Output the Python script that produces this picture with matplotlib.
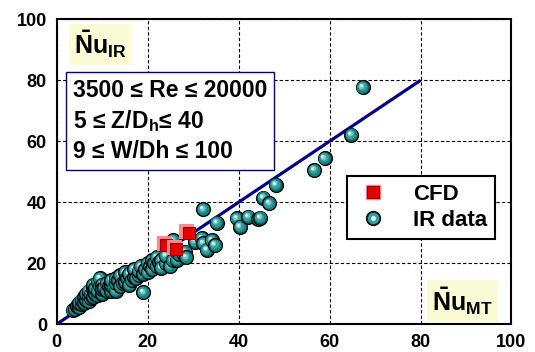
import matplotlib
matplotlib.use("Agg")
import matplotlib.pyplot as plt
from matplotlib.transforms import offset_copy
from matplotlib.lines import Line2D
from matplotlib.legend_handler import HandlerTuple

plt.rcParams['font.family'] = ['Liberation Sans', 'DejaVu Sans']
plt.rcParams['font.weight'] = 'bold'
plt.rcParams['mathtext.fontset'] = 'custom'
plt.rcParams['mathtext.rm'] = 'Liberation Sans'
plt.rcParams['mathtext.bf'] = 'Liberation Sans:bold'
plt.rcParams['mathtext.it'] = 'Liberation Sans:italic'

# IR measurements (Nu_MT, Nu_IR)
ir_x = [3.5, 4, 4.5, 5, 5, 5.5, 5.5, 6, 6, 6.5, 6.5, 7, 7, 7, 7.5, 7.5, 8, 8, 8,
        8.5, 8.5, 9, 9, 9, 9.5, 9.5, 10, 10, 10, 10.5, 11, 11, 11.5, 12, 12, 12,
        12.5, 13, 13, 13, 13.5, 14, 14, 14.5, 15, 15, 15.5, 16, 16, 16.5, 17, 17,
        17.5, 18, 18, 18.5, 19, 19, 19.5, 20, 20, 20.5, 21, 21, 21.5, 22, 22,
        22.5, 23, 23, 24, 24, 25, 25.5, 25.6, 26.4, 27, 27.8, 28.2, 28.5, 30.4,
        31.9, 32.2, 33, 34.1, 34.8, 35.2, 32.2, 39.6, 40.3, 42.1, 44.3, 44.8,
        45.4, 46.7, 48.2, 56.6, 58.9, 64.8, 67.3]
ir_y = [4.5, 5, 6, 5.5, 7, 6.5, 8, 7, 9, 8, 10, 7.5, 9.5, 11, 8.5, 10, 9, 11.5, 13,
        10, 12, 9.5, 11, 14, 12.5, 15, 10, 13, 11.5, 12, 11, 13.5, 12.5, 11, 13,
        14.5, 12, 11, 13.5, 15, 14.5, 12.5, 16, 13.5, 14, 17, 15, 13, 16.5, 14.5,
        15.5, 18, 15, 16, 17.5, 19, 16.5, 10.5, 18, 17, 20, 19, 21, 18, 20, 19,
        22, 20.5, 21, 18.5, 20, 22.5, 19, 21, 27.6, 21.1, 23, 23.3, 23.8, 22,
        27.1, 28.2, 26.6, 24.4, 27.6, 26, 33.3, 37.7, 34.8, 32, 35.3, 34.5, 34.9,
        41.5, 39.6, 45.7, 50.6, 54.4, 62.1, 77.8]

# CFD predictions
cfd_x = [23.8, 26.0, 28.8]
cfd_y = [26.2, 24.9, 30.2]

# parity reference line
fit_x = [0, 80]
fit_y = [0, 80]

ticks = [0, 20, 40, 60, 80, 100]

fig = plt.figure(figsize=(5.35, 3.52), dpi=100)
ax = fig.add_axes([0.106, 0.079, 0.850, 0.866])
ax.set_xlim(0, 100)
ax.set_ylim(0, 100)
ax.set_xticks(ticks)
ax.set_yticks(ticks)
ax.tick_params(length=0, labelsize=13, pad=7)
for lab in ax.get_xticklabels() + ax.get_yticklabels():
    lab.set_fontweight('bold')
ax.grid(True, color='black', linestyle=(0, (3, 2)), linewidth=0.8)
ax.set_axisbelow(True)
for sp in ax.spines.values():
    sp.set_linewidth(1.5)

ax.plot(fit_x, fit_y, color='#000080', lw=2.3, zorder=3, solid_capstyle='butt')

# shaded balls for the IR points
ball_layers = [
    (10.0, '#0b5656', 0.0, 0.0),
    (8.6, '#1b8282', -0.3, 0.3),
    (6.4, '#35a0a0', -0.7, 0.7),
    (4.0, '#7cc8c8', -1.1, 1.1),
    (2.0, '#e4fafa', -1.5, 1.5),
]
z = 4
for x, y in zip(ir_x, ir_y):
    for i, (ms, col, dx, dy) in enumerate(ball_layers):
        tr = offset_copy(ax.transData, fig=fig, x=dx, y=dy, units='points')
        ax.plot([x], [y], marker='o', ms=ms, color=col, ls='none',
                mec='black' if i == 0 else col, mew=0.9 if i == 0 else 0,
                transform=tr, zorder=z)
        z += 0.001

# bevelled squares for CFD
sq_layers = [
    (9.5, '#ff8a8a', -1.0, 1.0, '#ff8a8a'),
    (8.4, '#e50000', 0.6, -0.6, '#9a0000'),
]
for x, y in zip(cfd_x, cfd_y):
    for ms, col, dx, dy, ec in sq_layers:
        tr = offset_copy(ax.transData, fig=fig, x=dx, y=dy, units='points')
        ax.plot([x], [y], marker='s', ms=ms, color=col, ls='none',
                mec=ec, mew=0.8, transform=tr, zorder=6)

h_cfd = (Line2D([], [], marker='s', ms=10, color='#ff8a8a', ls='none'),
         Line2D([], [], marker='s', ms=8, color='#e50000', mec='#9a0000',
                mew=0.8, ls='none'))
h_ir = (Line2D([], [], marker='o', ms=10, color='#0b5656', mec='black', ls='none'),
        Line2D([], [], marker='o', ms=7, color='#35a0a0', ls='none'),
        Line2D([], [], marker='o', ms=2.5, color='#e4fafa', ls='none'))
leg = ax.legend([h_cfd, h_ir], ['CFD', 'IR data'],
                handler_map={tuple: HandlerTuple(ndivide=1)},
                loc='upper left', bbox_to_anchor=(0.639, 0.487),
                borderaxespad=0, fancybox=False, framealpha=1,
                edgecolor='black', prop={'size': 16, 'weight': 'bold'},
                handlelength=1.6, handletextpad=1.0, borderpad=0.35,
                labelspacing=0.25)
leg.get_frame().set_linewidth(1.5)
leg.set_zorder(10)

# axis name tags
ax.text(0.038, 0.97, r'$\mathbf{\bar{N}u_{IR}}$', transform=ax.transAxes,
        fontsize=18, va='top', ha='left', zorder=10,
        bbox=dict(boxstyle='square,pad=0.2', fc='#fbfbd6', ec='none'))
ax.text(0.826, 0.025, r'$\mathbf{\bar{N}u_{MT}}$', transform=ax.transAxes,
        fontsize=18, va='bottom', ha='left', zorder=10,
        bbox=dict(boxstyle='square,pad=0.2', fc='#fbfbd6', ec='none'))

ax.text(0.036, 0.805,
        '3500 \u2264 Re \u2264 20000\n5 \u2264 Z/D$\\mathbf{_h}$\u2264 40\n9 \u2264 W/Dh \u2264 100',
        transform=ax.transAxes, fontsize=16.5, fontweight='bold',
        va='top', ha='left', linespacing=1.33, zorder=10,
        bbox=dict(boxstyle='square,pad=0.3', fc='white', ec='#000080', lw=1))

fig.savefig('out.png', dpi=100)
